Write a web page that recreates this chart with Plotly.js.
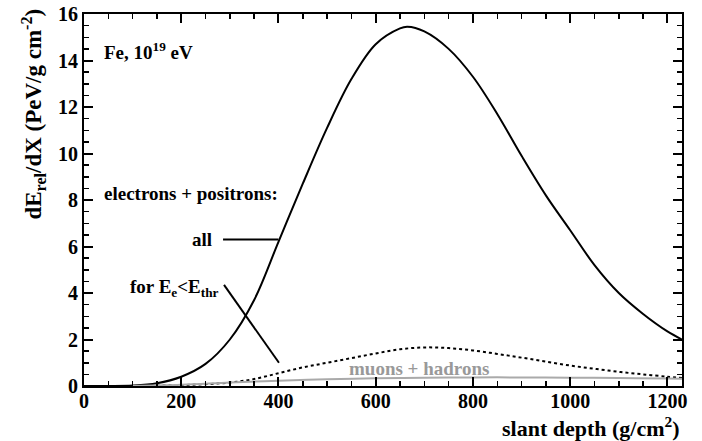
<!DOCTYPE html>
<html>
<head>
<meta charset="utf-8">
<script src="https://cdn.plot.ly/plotly-3.0.1.min.js"></script>
<style>html,body{margin:0;padding:0;background:#fff;}#chart{width:702px;height:441px;}</style>
</head>
<body>
<div id="chart"></div>
<script>
// slant depth (g/cm^2)
const depthAll = [0, 50, 100, 150, 200, 250, 300, 350, 400, 450, 500, 550, 600, 650, 665, 700, 750, 800, 850, 900, 950, 1000, 1050, 1100, 1150, 1200, 1230];
const eAll     = [0, 0, 0.02, 0.12, 0.4, 0.95, 2.0, 3.7, 6.2, 8.7, 11.1, 13.2, 14.7, 15.38, 15.45, 15.25, 14.5, 13.3, 11.7, 9.9, 8.2, 6.7, 5.2, 4.0, 3.1, 2.35, 2.0];

const depthThr = [100, 150, 200, 250, 300, 350, 400, 450, 500, 550, 600, 650, 700, 750, 800, 850, 900, 950, 1000, 1050, 1100, 1150, 1200, 1230];
const eThr     = [0, 0.02, 0.04, 0.08, 0.15, 0.3, 0.55, 0.8, 1.0, 1.2, 1.4, 1.58, 1.66, 1.63, 1.53, 1.38, 1.22, 1.05, 0.88, 0.74, 0.61, 0.5, 0.4, 0.34];

const depthMu = [100, 200, 300, 400, 500, 600, 700, 800, 900, 1000, 1100, 1200, 1230];
const eMu     = [0, 0.05, 0.15, 0.23, 0.29, 0.33, 0.36, 0.37, 0.37, 0.36, 0.34, 0.32, 0.31];

const xTickVals = [0, 200, 400, 600, 800, 1000, 1200];
const yTickVals = [0, 2, 4, 6, 8, 10, 12, 14, 16];

const serif = "Liberation Serif, Times New Roman, serif";

const traces = [
  {x: depthAll, y: eAll, mode: 'lines', line: {color: '#000', width: 2, shape: 'spline'}, hoverinfo: 'skip'},
  {x: depthThr, y: eThr, mode: 'lines', line: {color: '#000', width: 2, dash: 'dot', shape: 'spline'}, hoverinfo: 'skip'},
  {x: depthMu, y: eMu, mode: 'lines', line: {color: '#aaa', width: 2, shape: 'spline'}, hoverinfo: 'skip'}
];

const axisCommon = {
  showline: true, linecolor: '#000', linewidth: 2, mirror: 'ticks',
  ticks: 'inside', ticklen: 9, tickwidth: 2, tickcolor: '#000',
  showgrid: false, zeroline: false,
  tickfont: {family: serif, size: 20, color: '#000', weight: 'bold'}
};

const layout = {
  width: 702, height: 441,
  margin: {l: 84, r: 20, t: 14, b: 55},
  paper_bgcolor: '#fff', plot_bgcolor: '#fff',
  showlegend: false,
  xaxis: Object.assign({}, axisCommon, {
    range: [0, 1230], tickvals: xTickVals, ticktext: xTickVals.map(String),
    ticklabelstandoff: -4,
    minor: {dtick: 50, tick0: 0, ticks: 'inside', ticklen: 5, tickwidth: 1.5, tickcolor: '#000', showgrid: false}
  }),
  yaxis: Object.assign({}, axisCommon, {
    range: [0, 16], tickvals: yTickVals, ticktext: yTickVals.map(String),
    minor: {dtick: 0.5, tick0: 0, ticks: 'inside', ticklen: 5, tickwidth: 1.5, tickcolor: '#000', showgrid: false}
  }),
  annotations: [
    {xref: 'paper', yref: 'paper', x: 1.0, y: -0.11, xanchor: 'right', yanchor: 'middle', showarrow: false,
     text: '<b>slant depth (g/cm<sup>2</sup>)</b>', font: {family: serif, size: 22, color: '#000'}},
    {xref: 'paper', yref: 'paper', x: -0.085, y: 0.73, xanchor: 'center', yanchor: 'middle', showarrow: false, textangle: -90,
     text: '<b>dE<sub>rel</sub>/dX (PeV/g cm<sup>-2</sup>)</b>', font: {family: serif, size: 23, color: '#000'}},
    {xref: 'x', yref: 'y', x: 36, y: 14.4, xanchor: 'left', yanchor: 'middle', showarrow: false,
     text: '<b>Fe, 10<sup>19</sup> eV</b>', font: {family: serif, size: 19, color: '#000'}},
    {xref: 'x', yref: 'y', x: 36, y: 8.3, xanchor: 'left', yanchor: 'middle', showarrow: false,
     text: '<b>electrons + positrons:</b>', font: {family: serif, size: 19, color: '#000'}},
    {xref: 'x', yref: 'y', x: 268, y: 6.3, xanchor: 'right', yanchor: 'middle', showarrow: false,
     text: '<b>all</b>', font: {family: serif, size: 19, color: '#000'}},
    {xref: 'x', yref: 'y', x: 282, y: 4.2, xanchor: 'right', yanchor: 'middle', showarrow: false,
     text: '<b>for E<sub>e</sub>&lt;E<sub>thr</sub></b>', font: {family: serif, size: 19, color: '#000'}},
    {xref: 'x', yref: 'y', x: 690, y: 0.75, xanchor: 'center', yanchor: 'middle', showarrow: false,
     text: '<b>muons + hadrons</b>', font: {family: serif, size: 19, color: '#999'}}
  ],
  shapes: [
    {type: 'line', xref: 'x', yref: 'y', x0: 286, y0: 6.3, x1: 400, y1: 6.3, line: {color: '#000', width: 2}},
    {type: 'line', xref: 'x', yref: 'y', x0: 288, y0: 4.35, x1: 401, y1: 1.0, line: {color: '#000', width: 2}}
  ]
};

Plotly.newPlot('chart', traces, layout, {staticPlot: true, displayModeBar: false});
</script>
</body>
</html>
